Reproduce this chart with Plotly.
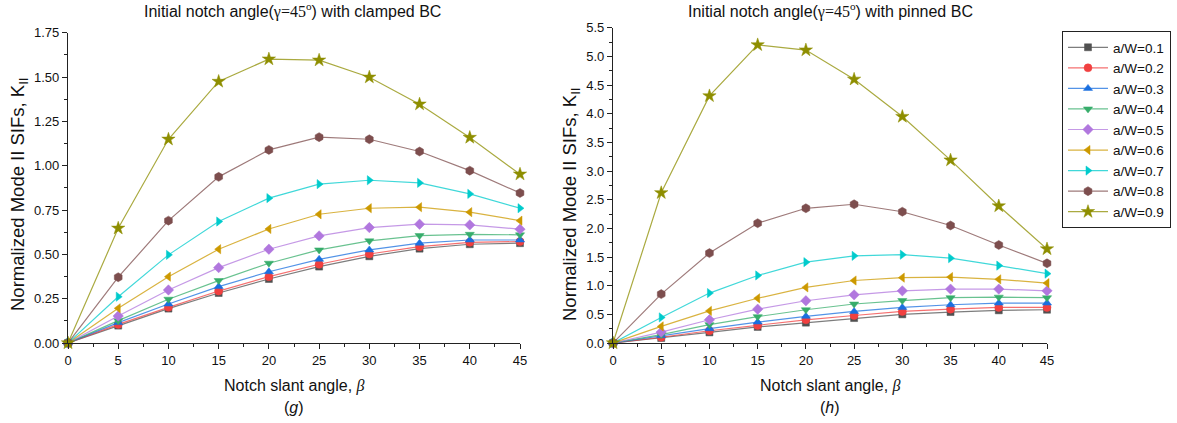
import plotly.graph_objects as go

beta = [0, 5, 10, 15, 20, 25, 30, 35, 40, 45]
labels = ["a/W=0.1", "a/W=0.2", "a/W=0.3", "a/W=0.4", "a/W=0.5",
          "a/W=0.6", "a/W=0.7", "a/W=0.8", "a/W=0.9"]

# Clamped BC (g)
clamped_01 = [0, 0.098, 0.194, 0.282, 0.361, 0.431, 0.489, 0.532, 0.557, 0.563]
clamped_02 = [0, 0.105, 0.201, 0.293, 0.374, 0.444, 0.502, 0.543, 0.568, 0.572]
clamped_03 = [0, 0.115, 0.220, 0.318, 0.402, 0.472, 0.525, 0.563, 0.581, 0.581]
clamped_04 = [0, 0.126, 0.247, 0.352, 0.450, 0.525, 0.576, 0.606, 0.613, 0.610]
clamped_05 = [0, 0.152, 0.299, 0.425, 0.529, 0.604, 0.651, 0.670, 0.666, 0.642]
clamped_06 = [0, 0.196, 0.374, 0.529, 0.643, 0.726, 0.760, 0.766, 0.738, 0.690]
clamped_07 = [0, 0.261, 0.497, 0.685, 0.817, 0.896, 0.918, 0.903, 0.841, 0.760]
clamped_08 = [0, 0.371, 0.690, 0.937, 1.089, 1.161, 1.149, 1.080, 0.972, 0.846]
clamped_09 = [0, 0.647, 1.149, 1.475, 1.601, 1.595, 1.499, 1.347, 1.159, 0.952]

# Pinned BC (h)
pinned_01 = [0, 0.087, 0.185, 0.280, 0.355, 0.435, 0.500, 0.540, 0.570, 0.580]
pinned_02 = [0, 0.100, 0.214, 0.307, 0.405, 0.480, 0.550, 0.590, 0.620, 0.620]
pinned_03 = [0, 0.127, 0.250, 0.365, 0.465, 0.550, 0.620, 0.667, 0.697, 0.697]
pinned_04 = [0, 0.145, 0.320, 0.460, 0.580, 0.680, 0.740, 0.790, 0.800, 0.790]
pinned_05 = [0, 0.190, 0.405, 0.590, 0.737, 0.840, 0.910, 0.940, 0.940, 0.910]
pinned_06 = [0, 0.290, 0.560, 0.780, 0.970, 1.090, 1.140, 1.150, 1.110, 1.045]
pinned_07 = [0, 0.446, 0.871, 1.178, 1.410, 1.520, 1.540, 1.480, 1.350, 1.210]
pinned_08 = [0, 0.853, 1.568, 2.090, 2.350, 2.420, 2.290, 2.050, 1.710, 1.390]
pinned_09 = [0, 2.620, 4.310, 5.200, 5.110, 4.600, 3.950, 3.190, 2.390, 1.640]

clamped = [clamped_01, clamped_02, clamped_03, clamped_04, clamped_05,
           clamped_06, clamped_07, clamped_08, clamped_09]
pinned = [pinned_01, pinned_02, pinned_03, pinned_04, pinned_05,
          pinned_06, pinned_07, pinned_08, pinned_09]

colors = ["#515151", "#F14040", "#1A6FDF", "#37AD6B", "#B177DE",
          "#CC9900", "#00CBCC", "#7D4E4E", "#8E8E00"]
symbols = ["square", "circle", "triangle-up", "triangle-down", "diamond",
           "triangle-left", "triangle-right", "hexagon", "star"]
sizes = [7, 8, 8, 8, 8, 8, 8, 9, 10]


def rgba(h, a):
    h = h.lstrip("#")
    r, g, b = int(h[0:2], 16), int(h[2:4], 16), int(h[4:6], 16)
    return f"rgba({r},{g},{b},{a})"


fig = go.Figure()
for i in range(9):
    for j, (data, xa, ya) in enumerate([(clamped, "x", "y"), (pinned, "x2", "y2")]):
        fig.add_trace(go.Scatter(
            x=beta, y=data[i], xaxis=xa, yaxis=ya,
            mode="lines+markers", name=labels[i],
            legendgroup=labels[i], showlegend=(j == 1),
            line=dict(color=rgba(colors[i], 0.75), width=1.2),
            marker=dict(symbol=symbols[i], size=sizes[i], color=colors[i],
                        line=dict(width=0.5, color=colors[i])),
            cliponaxis=False,
        ))

FONT = "Liberation Sans, Arial, sans-serif"
axis_common = dict(showline=True, linecolor="#222", linewidth=1.2,
                   ticks="outside", ticklen=5, tickwidth=1, tickcolor="#222",
                   showgrid=False, zeroline=False,
                   tickfont=dict(family=FONT, size=13, color="#111"))
xaxis_common = dict(axis_common, range=[0, 45], tickmode="array",
                    tickvals=beta, ticktext=[str(b) for b in beta],
                    minor=dict(ticks="outside", ticklen=3, tickwidth=1,
                               tickcolor="#222", dtick=2.5, tick0=0))

fig.update_layout(
    width=1177, height=423,
    margin=dict(l=0, r=0, t=0, b=0, autoexpand=False),
    paper_bgcolor="white", plot_bgcolor="white",
    font=dict(family=FONT, size=13, color="#111"),
    xaxis=dict(xaxis_common, domain=[68/1177, 520/1177], anchor="y"),
    yaxis=dict(axis_common, domain=[80/423, 390.3/423], anchor="x",
               range=[0, 1.75], dtick=0.25, tick0=0, tickformat=".2f",
               minor=dict(ticks="outside", ticklen=3, tickwidth=1,
                          tickcolor="#222", dtick=0.125, tick0=0)),
    xaxis2=dict(xaxis_common, domain=[613/1177, 1047/1177], anchor="y2"),
    yaxis2=dict(axis_common, domain=[80/423, 395.3/423], anchor="x2",
                range=[0, 5.5], dtick=0.5, tick0=0, tickformat=".1f",
                minor=dict(ticks="outside", ticklen=3, tickwidth=1,
                           tickcolor="#222", dtick=0.25, tick0=0)),
    legend=dict(x=1062/1177, y=1 - 31/423, xanchor="left", yanchor="top",
                bordercolor="#222", borderwidth=1, bgcolor="white",
                font=dict(family=FONT, size=13.5, color="#111"),
                itemwidth=40, tracegroupgap=0),
    showlegend=True,
)

SERIF = "Liberation Serif, Times New Roman, serif"
ann = []


def title_text(bc):
    return ("Initial notch angle(<span style='font-family:" + SERIF + "'>γ=45<sup>o</sup></span>) with "
            + bc + " BC")


def add_ann(text, px, py, size, angle=0):
    ann.append(dict(text=text, x=px/1177, y=1 - py/423, xref="paper", yref="paper",
                    xanchor="center", yanchor="middle", textangle=angle,
                    showarrow=False, font=dict(family=FONT, size=size, color="#111")))


add_ann(title_text("clamped"), 292, 10, 16)
add_ann(title_text("pinned"), 830, 10, 16)

xt = "Notch slant angle, <span style='font-family:" + SERIF + "'><i>β</i></span>"
for cx, lab in [(294, "g"), (830, "h")]:
    add_ann(xt, cx, 386, 16)
    add_ann("(<i>" + lab + "</i>)", cx, 407, 16)

yt = "Normalized Mode II SIFs, K<sub>II</sub>"
add_ann(yt, 19, 195, 18.5, -90)
add_ann(yt, 571, 205, 18.5, -90)

fig.update_layout(annotations=ann)
fig.write_html("out.html", config={"displayModeBar": False},
               post_script="document.body.style.margin='0';")
